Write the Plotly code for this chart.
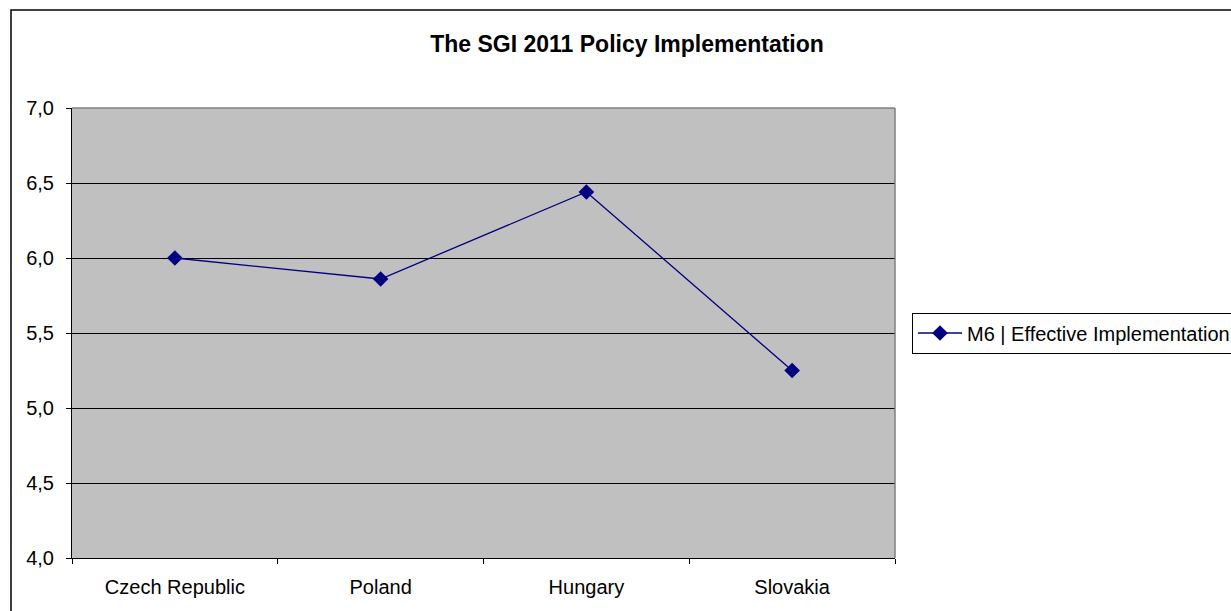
import plotly.graph_objects as go

countries = ["Czech Republic", "Poland", "Hungary", "Slovakia"]
effective_implementation = [6.00, 5.86, 6.44, 5.25]
series_name = "M6 | Effective Implementation"
chart_title = "The SGI 2011 Policy Implementation"

W, H = 1231, 611
L, R, T, B = 72, 895, 108, 558


def px_x(p):
    return (p - L) / (R - L)


def px_y(p):
    return (B - p) / (B - T)


fig = go.Figure()
fig.add_trace(go.Scatter(
    x=countries,
    y=effective_implementation,
    mode="lines+markers",
    name=series_name,
    line=dict(color="#000080", width=1.3),
    marker=dict(symbol="diamond", size=12, color="#000080"),
))

fig.update_layout(
    width=W, height=H,
    margin=dict(l=L, r=W - R, t=T, b=H - B, autoexpand=False),
    paper_bgcolor="white",
    plot_bgcolor="#C0C0C0",
    separators=",.",
    font=dict(family="Liberation Sans, Arial, sans-serif", size=20, color="black"),
    title=dict(text="<b>" + chart_title + "</b>", x=627 / W, xanchor="center",
               y=1 - 44 / H, yanchor="middle",
               font=dict(size=23, color="black")),
    showlegend=True,
    legend=dict(xref="container", yref="container",
                x=912 / W, xanchor="left", y=1 - 333 / H, yanchor="middle",
                bordercolor="black", borderwidth=1, bgcolor="white",
                font=dict(size=20), itemwidth=44),
    xaxis=dict(type="category", range=[-0.5, 3.5], tickson="boundaries",
               ticks="outside", ticklen=5, tickcolor="black",
               showline=True, linecolor="black", linewidth=1,
               showgrid=False, tickfont=dict(size=20),
               ticklabelstandoff=11, automargin=False),
    yaxis=dict(range=[4, 7], dtick=0.5, tickformat=".1f",
               ticks="outside", ticklen=5, tickcolor="black",
               showline=True, linecolor="black", linewidth=1,
               showgrid=True, gridcolor="black", gridwidth=1,
               zeroline=False, tickfont=dict(size=20),
               ticklabelstandoff=8, automargin=False),
    shapes=[
        # plot area frame, top and right
        dict(type="line", xref="paper", yref="paper", x0=0, x1=1, y0=1, y1=1,
             line=dict(color="#808080", width=1.5)),
        dict(type="line", xref="paper", yref="paper", x0=1, x1=1, y0=0, y1=1,
             line=dict(color="#808080", width=1.5)),
        # chart border
        dict(type="rect", xref="paper", yref="paper",
             x0=px_x(11), x1=px_x(1260), y0=px_y(10), y1=px_y(640),
             line=dict(color="black", width=1.5), fillcolor="rgba(0,0,0,0)"),
    ],
)

fig.write_html("out.html")
